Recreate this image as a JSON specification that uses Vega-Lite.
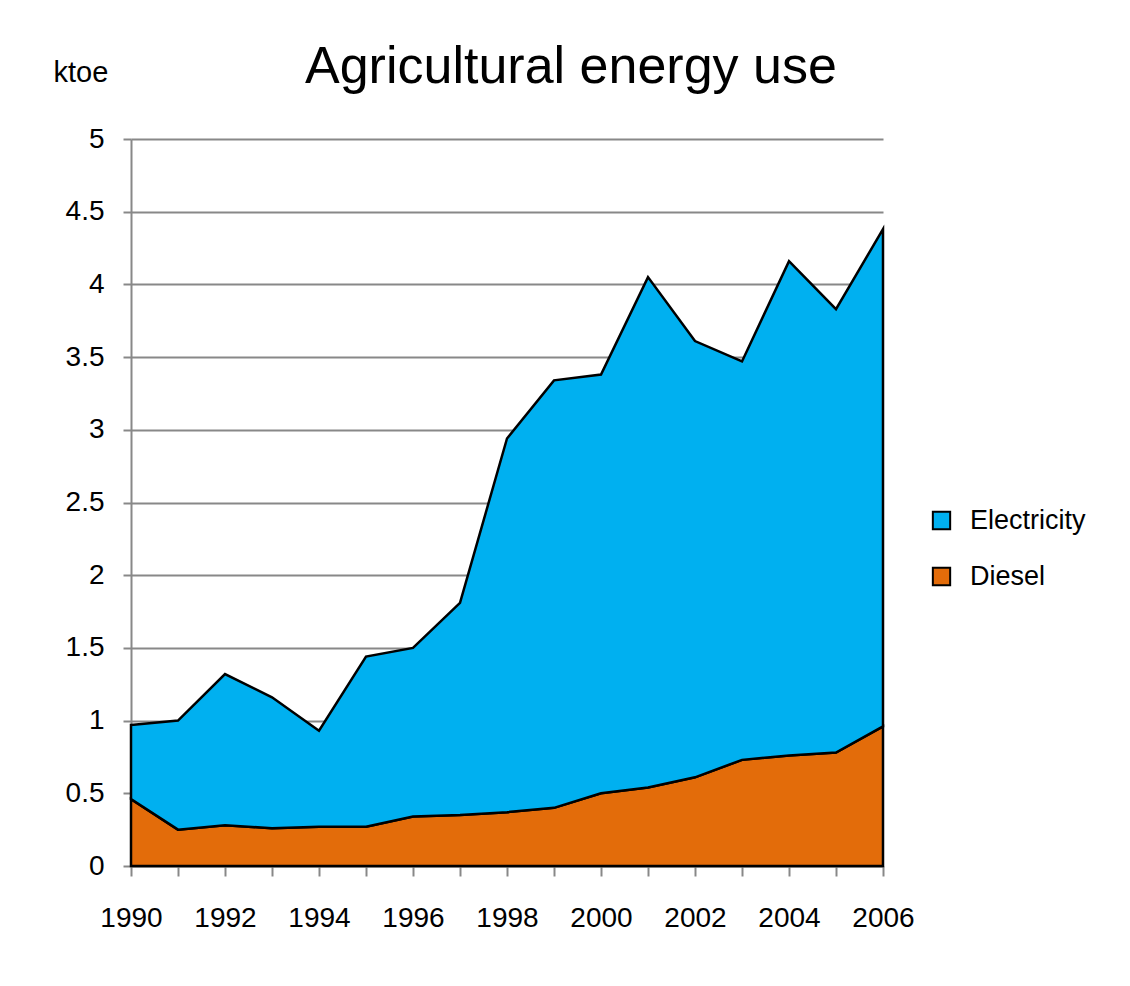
{
  "$schema": "https://vega.github.io/schema/vega-lite/v6.json",
  "width": 752,
  "height": 727,
  "autosize": {"type": "none"},
  "padding": {"left": 131, "top": 139, "right": 247, "bottom": 120},
  "background": "white",
  "title": {
    "text": "Agricultural energy use",
    "font": "Liberation Sans",
    "fontSize": 52,
    "fontWeight": "normal",
    "color": "black",
    "anchor": "start",
    "frame": "group",
    "dx": 174,
    "baseline": "alphabetic",
    "offset": -77
  },
  "data": {
    "values": [
      {"year": 1990, "type": "Diesel", "value": 0.46},
      {"year": 1991, "type": "Diesel", "value": 0.25},
      {"year": 1992, "type": "Diesel", "value": 0.28},
      {"year": 1993, "type": "Diesel", "value": 0.26},
      {"year": 1994, "type": "Diesel", "value": 0.27},
      {"year": 1995, "type": "Diesel", "value": 0.27},
      {"year": 1996, "type": "Diesel", "value": 0.34},
      {"year": 1997, "type": "Diesel", "value": 0.35},
      {"year": 1998, "type": "Diesel", "value": 0.37},
      {"year": 1999, "type": "Diesel", "value": 0.40},
      {"year": 2000, "type": "Diesel", "value": 0.50},
      {"year": 2001, "type": "Diesel", "value": 0.54},
      {"year": 2002, "type": "Diesel", "value": 0.61},
      {"year": 2003, "type": "Diesel", "value": 0.73},
      {"year": 2004, "type": "Diesel", "value": 0.76},
      {"year": 2005, "type": "Diesel", "value": 0.78},
      {"year": 2006, "type": "Diesel", "value": 0.96},
      {"year": 1990, "type": "Electricity", "value": 0.51},
      {"year": 1991, "type": "Electricity", "value": 0.75},
      {"year": 1992, "type": "Electricity", "value": 1.04},
      {"year": 1993, "type": "Electricity", "value": 0.90},
      {"year": 1994, "type": "Electricity", "value": 0.66},
      {"year": 1995, "type": "Electricity", "value": 1.17},
      {"year": 1996, "type": "Electricity", "value": 1.16},
      {"year": 1997, "type": "Electricity", "value": 1.46},
      {"year": 1998, "type": "Electricity", "value": 2.57},
      {"year": 1999, "type": "Electricity", "value": 2.94},
      {"year": 2000, "type": "Electricity", "value": 2.88},
      {"year": 2001, "type": "Electricity", "value": 3.51},
      {"year": 2002, "type": "Electricity", "value": 3.00},
      {"year": 2003, "type": "Electricity", "value": 2.74},
      {"year": 2004, "type": "Electricity", "value": 3.40},
      {"year": 2005, "type": "Electricity", "value": 3.05},
      {"year": 2006, "type": "Electricity", "value": 3.42}
    ]
  },
  "mark": {"type": "area", "stroke": "black", "strokeWidth": 2.5, "strokeJoin": "miter", "opacity": 1},
  "encoding": {
    "x": {
      "field": "year",
      "type": "quantitative",
      "scale": {"domain": [1990, 2006], "nice": false, "zero": false},
      "axis": {
        "title": null,
        "values": [1990,1991,1992,1993,1994,1995,1996,1997,1998,1999,2000,2001,2002,2003,2004,2005,2006],
        "labelExpr": "datum.value % 2 == 0 ? datum.label : ''",
        "format": "d",
        "grid": false,
        "domainColor": "#888888",
        "domainWidth": 2,
        "tickColor": "#888888",
        "tickWidth": 2,
        "tickSize": 10,
        "labelFont": "Liberation Sans",
        "labelFontSize": 28,
        "labelColor": "black",
        "labelPadding": 28,
        "labelFlush": false,
        "labelOverlap": false
      }
    },
    "y": {
      "field": "value",
      "type": "quantitative",
      "stack": "zero",
      "scale": {"domain": [0, 5], "nice": false},
      "axis": {
        "title": "ktoe",
        "titleAngle": 0,
        "titleAlign": "left",
        "titleBaseline": "alphabetic",
        "titleX": -78,
        "titleY": -58,
        "titleFont": "Liberation Sans",
        "titleFontSize": 29,
        "titleFontWeight": "normal",
        "titleColor": "black",
        "values": [0, 0.5, 1, 1.5, 2, 2.5, 3, 3.5, 4, 4.5, 5],
        "format": "~g",
        "grid": true,
        "gridColor": "#888888",
        "gridWidth": 2,
        "domainColor": "#888888",
        "domainWidth": 2,
        "tickColor": "#888888",
        "tickWidth": 2,
        "tickSize": 8,
        "labelFont": "Liberation Sans",
        "labelFontSize": 28,
        "labelColor": "black",
        "labelPadding": 19,
        "labelFlush": false,
        "labelOverlap": false
      }
    },
    "color": {
      "field": "type",
      "type": "nominal",
      "scale": {"domain": ["Electricity", "Diesel"], "range": ["#00B0F0", "#E36C0A"]},
      "legend": {
        "title": null,
        "orient": "none",
        "legendX": 797,
        "legendY": 368,
        "symbolType": "square",
        "symbolSize": 300,
        "symbolStrokeColor": "black",
        "symbolStrokeWidth": 2,
        "symbolOpacity": 1,
        "labelFont": "Liberation Sans",
        "labelFontSize": 27,
        "labelColor": "black",
        "labelOffset": 15,
        "rowPadding": 28
      }
    },
    "order": {"field": "type", "sort": "ascending"}
  },
  "config": {"view": {"stroke": null}}
}
